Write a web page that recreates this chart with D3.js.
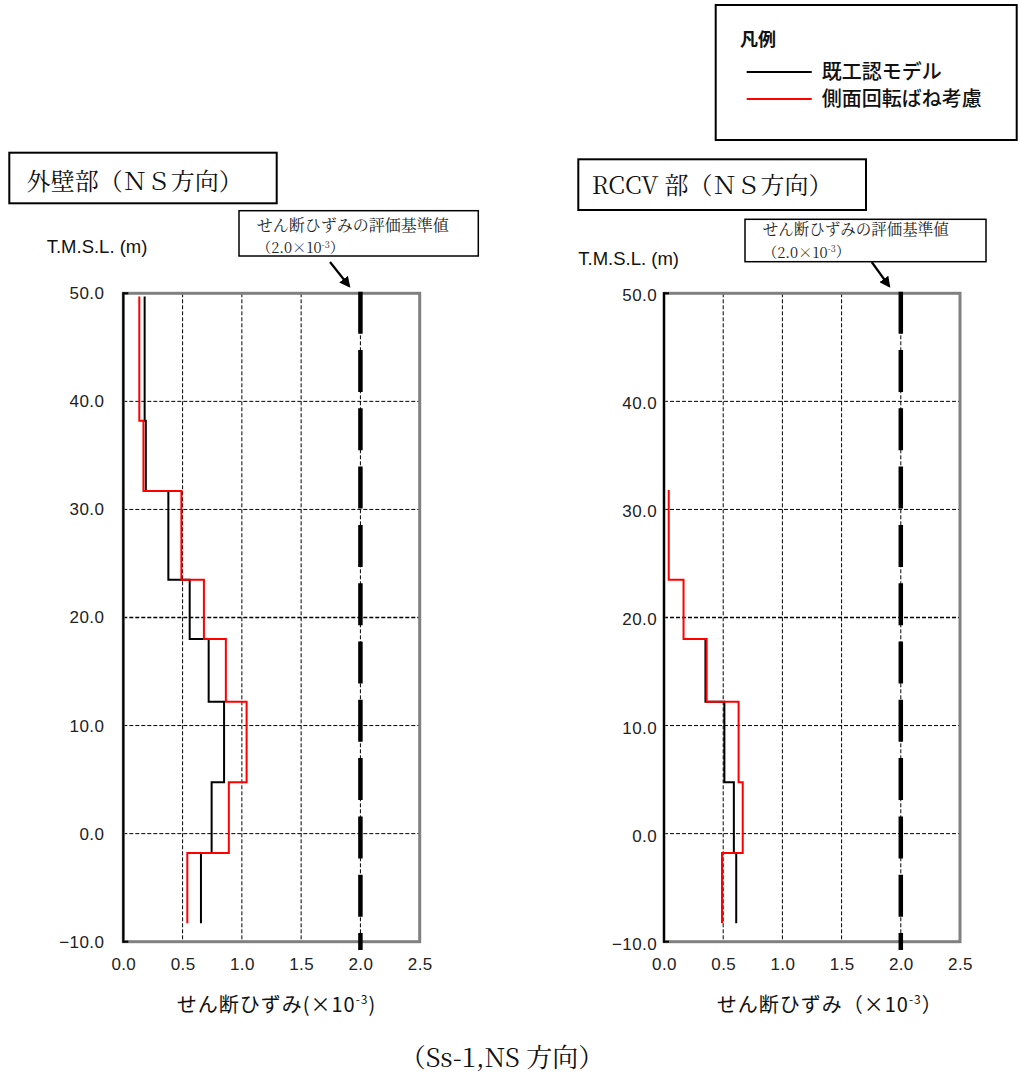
<!DOCTYPE html>
<html><head><meta charset="utf-8">
<script src="https://cdn.jsdelivr.net/npm/d3@7"></script>
<style>body{margin:0;background:#fff}</style></head><body>
<script>
// ---- data ----
const yTicks = [50, 40, 30, 20, 10, 0, -10];
const xTicks = [0, 0.5, 1.0, 1.5, 2.0, 2.5];
const gridX = [0.5, 1.0, 1.5, 2.0];
const gridY = [40, 30, 20, 10, 0];
const criterion = 2.0;
// 外壁部
const leftElev = [49.7, 38.2, 31.7, 23.5, 18.0, 12.2, 4.75, -1.8, -8.3];
const leftBase = [0.18, 0.19, 0.38, 0.56, 0.72, 0.85, 0.745, 0.655];
const leftSpring = [0.135, 0.17, 0.49, 0.68, 0.865, 1.04, 0.89, 0.54];
// RCCV部
const rightElevSpring = [31.8, 23.5, 18.0, 12.2, 4.75, -1.8, -8.3];
const rightSpring = [0.04, 0.165, 0.36, 0.63, 0.665, 0.49];
const rightElevBase = [18.0, 12.2, 4.75, -1.8, -8.3];
const rightBase = [0.35, 0.51, 0.59, 0.61];
const legendTitle = "凡例";
const legendLabels = ["既工認モデル", "側面回転ばね考慮"];
const seriesColors = ["#000000", "#ff0000"];
const panelTitles = ["外壁部（ＮＳ方向）", "RCCV 部（ＮＳ方向）"];
const xAxisTitles = ["せん断ひずみ(×10", "せん断ひずみ（×10"];
const yAxisTitle = "T.M.S.L. (m)";
const noteLine1 = "せん断ひずみの評価基準値";
const caption = "（Ss-1,NS 方向）";

const SANS = "'Liberation Sans', Arial, sans-serif";
const CJK = "'Noto Sans CJK JP', sans-serif";
const SERIF = "'Noto Serif CJK JP', 'Liberation Serif', 'Noto Sans CJK JP', serif";

const W = 1019, H = 1077;
const svg = d3.select("body").append("svg").attr("width", W).attr("height", H)
  .style("display", "block");

const defs = svg.append("defs");
defs.append("marker").attr("id", "arrow").attr("viewBox", "0 0 10 10")
  .attr("refX", 8).attr("refY", 5).attr("markerWidth", 5).attr("markerHeight", 5)
  .attr("markerUnits", "strokeWidth").attr("orient", "auto")
  .append("path").attr("d", "M0,0 L10,5 L0,10 z").attr("fill", "#000");

function stepPoints(elev, vals) {
  const pts = [];
  vals.forEach((v, i) => { pts.push([v, elev[i]]); pts.push([v, elev[i + 1]]); });
  return pts;
}

const panels = [
  { x0: 123.3, x1: 419.7, labelPad: 19, ylabShift: 0,
    title: panelTitles[0], tbox: [9.3, 152.7, 276.7, 203.3], tx: 26.7, ty: 182,
    nbox: [239, 210.7, 478.3, 256], nx: 256.7, ny1: 225, ny2: 248, nf: 16,
    arrow: [330, 262, 349, 286], ylab: [46.7, 246.7], xt: xAxisTitles[0], xtx: 176.7,
    series: [[leftElev, leftBase], [leftElev, leftSpring]] },
  { x0: 664, x1: 960, labelPad: 7, ylabShift: 2,
    title: panelTitles[1], tbox: [578.3, 159.3, 866, 210], tx: 591.7, ty: 185.5,
    nbox: [745, 219.3, 986, 261.7], nx: 762.7, ny1: 230, ny2: 252.5, nf: 15.5,
    arrow: [871.7, 262, 889, 286], ylab: [578.3, 258.5], xt: xAxisTitles[1], xtx: 716.7,
    series: [[rightElevBase, rightBase], [rightElevSpring, rightSpring]] }
];

const yTop = 293.3, yBot = 941.7;

panels.forEach(p => {
  const x = d3.scaleLinear().domain([0, 2.5]).range([p.x0, p.x1]);
  const y = d3.scaleLinear().domain([-10, 50]).range([yBot, yTop]);
  const g = svg.append("g");

  // grid
  g.selectAll(".gx").data(gridX).join("line")
    .attr("x1", d => x(d)).attr("x2", d => x(d)).attr("y1", yTop).attr("y2", yBot)
    .attr("stroke", "#000").attr("stroke-width", 1).attr("stroke-dasharray", "4,2");
  g.selectAll(".gy").data(gridY).join("line")
    .attr("x1", p.x0).attr("x2", p.x1).attr("y1", d => y(d)).attr("y2", d => y(d))
    .attr("stroke", "#000").attr("stroke-width", d => d === 20 ? 1.6 : 1)
    .attr("stroke-dasharray", "4,2");

  // frame
  g.append("rect").attr("x", p.x0).attr("y", yTop).attr("width", p.x1 - p.x0)
    .attr("height", yBot - yTop).attr("fill", "none").attr("stroke", "#808080").attr("stroke-width", 3);

  // axes
  const ya = d3.axisLeft(y).tickValues(yTicks).tickFormat(d3.format(".1f"))
    .tickSize(0).tickPadding(p.labelPad);
  const yg = g.append("g").attr("transform", `translate(${p.x0},${p.ylabShift})`).call(ya);
  yg.select(".domain").remove();
  yg.selectAll("text").attr("font-family", SANS).attr("font-size", 17)
    .attr("letter-spacing", 0.4).attr("fill", "#222");
  g.append("line").attr("x1", p.x0).attr("x2", p.x0).attr("y1", yTop - 1).attr("y2", yBot + 1)
    .attr("stroke", "#000").attr("stroke-width", 2);
  g.append("line").attr("x1", p.x0).attr("x2", p.x0 + 5).attr("y1", yTop).attr("y2", yTop)
    .attr("stroke", "#000").attr("stroke-width", 2);
  g.append("line").attr("x1", p.x0).attr("x2", p.x0 + 5).attr("y1", yBot).attr("y2", yBot)
    .attr("stroke", "#000").attr("stroke-width", 2);

  const xa = d3.axisBottom(x).tickValues(xTicks).tickFormat(d3.format(".1f"))
    .tickSize(0).tickPadding(16);
  const xg = g.append("g").attr("transform", `translate(0,${yBot})`).call(xa);
  xg.select(".domain").remove();
  xg.selectAll("text").attr("font-family", SANS).attr("font-size", 17)
    .attr("letter-spacing", 0.4).attr("fill", "#222");

  // criterion line
  g.append("line").attr("x1", x(criterion)).attr("x2", x(criterion))
    .attr("y1", yTop - 1.6).attr("y2", yBot + 8.3)
    .attr("stroke", "#000").attr("stroke-width", 4.5).attr("stroke-dasharray", "42,16.3");

  // series
  const line = d3.line().x(d => x(d[0])).y(d => y(d[1]));
  p.series.forEach((s, i) => {
    g.append("path").attr("d", line(stepPoints(s[0], s[1])))
      .attr("fill", "none").attr("stroke", seriesColors[i]).attr("stroke-width", 2);
  });

  // title box
  const [bx0, by0, bx1, by1] = p.tbox;
  g.append("rect").attr("x", bx0).attr("y", by0).attr("width", bx1 - bx0).attr("height", by1 - by0)
    .attr("fill", "#fff").attr("stroke", "#000").attr("stroke-width", 2);
  g.append("text").attr("x", p.tx).attr("y", p.ty).attr("dy", "0.35em")
    .attr("font-family", SERIF).attr("font-size", 24).attr("fill", "#111").text(p.title);

  // note box
  const [nx0, ny0, nx1, ny1] = p.nbox;
  g.append("rect").attr("x", nx0).attr("y", ny0).attr("width", nx1 - nx0).attr("height", ny1 - ny0)
    .attr("fill", "#fff").attr("stroke", "#000").attr("stroke-width", 1.5);
  g.append("text").attr("x", p.nx).attr("y", p.ny1).attr("dy", "0.35em")
    .attr("font-family", SERIF).attr("font-size", p.nf).attr("fill", "#222").text(noteLine1);
  const t2 = g.append("text").attr("x", p.nx).attr("y", p.ny2).attr("dy", "0.35em")
    .attr("font-family", SERIF).attr("font-size", 14.5).attr("fill", "#222");
  t2.append("tspan").text("（2.0×10");
  t2.append("tspan").attr("font-size", 9).attr("dy", "-0.6em").text("-3");
  t2.append("tspan").attr("dy", "0.35em").text("）");

  // arrow
  const [ax0, ay0, ax1, ay1] = p.arrow;
  g.append("line").attr("x1", ax0).attr("y1", ay0).attr("x2", ax1).attr("y2", ay1)
    .attr("stroke", "#000").attr("stroke-width", 2.2).attr("marker-end", "url(#arrow)");

  // y axis title
  g.append("text").attr("x", p.ylab[0]).attr("y", p.ylab[1]).attr("dy", "0.35em")
    .attr("font-family", SANS).attr("font-size", 18.5).attr("fill", "#111").text(yAxisTitle);

  // x axis title
  const xt = g.append("text").attr("x", p.xtx).attr("y", 1005).attr("dy", "0.35em")
    .attr("font-family", CJK).attr("font-size", 20).attr("letter-spacing", 1).attr("fill", "#111");
  xt.append("tspan").text(p.xt);
  xt.append("tspan").attr("font-size", 12).attr("dy", "-0.7em").text("-3");
  xt.append("tspan").attr("dy", "0.42em").text(p.xt.includes("（") ? "）" : ")");
});

// legend
svg.append("rect").attr("x", 715.7).attr("y", 5).attr("width", 301).attr("height", 135)
  .attr("fill", "#fff").attr("stroke", "#000").attr("stroke-width", 2);
svg.append("text").attr("x", 740).attr("y", 40).attr("dy", "0.35em")
  .attr("font-family", CJK).attr("font-size", 18).attr("font-weight", "bold").attr("fill", "#111")
  .text(legendTitle);
legendLabels.forEach((lab, i) => {
  const ly = 72 + i * 27;
  svg.append("line").attr("x1", 746.7).attr("x2", 811.7).attr("y1", ly).attr("y2", ly)
    .attr("stroke", seriesColors[i]).attr("stroke-width", 2);
  svg.append("text").attr("x", 821.7).attr("y", ly).attr("dy", "0.35em")
    .attr("font-family", CJK).attr("font-size", 20).attr("font-weight", 500).attr("fill", "#111").text(lab);
});

// caption
svg.append("text").attr("x", 502).attr("y", 1058).attr("dy", "0.35em").attr("text-anchor", "middle")
  .attr("font-family", SERIF).attr("font-size", 26).attr("fill", "#111").text(caption);
</script>
</body></html>
